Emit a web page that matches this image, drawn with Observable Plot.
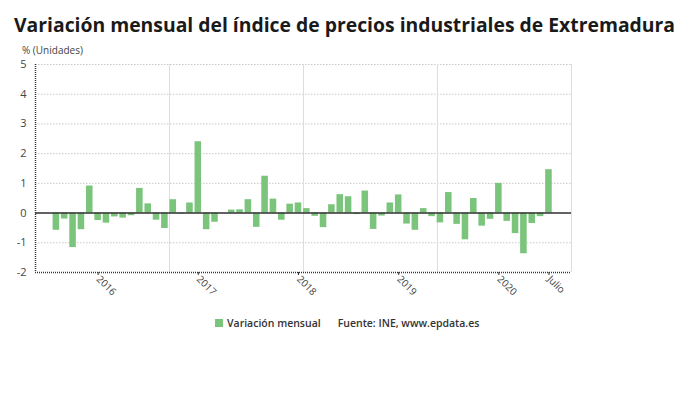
<!DOCTYPE html>
<html>
<head>
<meta charset="utf-8">
<script src="https://cdn.jsdelivr.net/npm/d3@7"></script>
<script src="https://cdn.jsdelivr.net/npm/@observablehq/plot@0.6"></script>
<style>
  html, body { margin: 0; padding: 0; background: #fff; }
  body { width: 690px; height: 406px; position: relative; overflow: hidden; font-family: "Open Sans", sans-serif; }
  #title { position: absolute; left: 14px; top: 10px; font-size: 19.35px; font-weight: 700; line-height: 30px; color: #1a1a1a; white-space: nowrap; }
  #sub { position: absolute; left: 22px; top: 43px; font-size: 10px; line-height: 14px; color: #444; }
  #chart { position: absolute; left: 0; top: 54px; }
  #legend { position: absolute; left: 215px; top: 316px; font-size: 10.5px; font-weight: 600; line-height: 14px; color: #333; white-space: nowrap; }
  #legend .sw { display: inline-block; width: 8px; height: 8px; background: #7bc47c; margin-right: 4px; vertical-align: 0px; }
  #legend .src { margin-left: 17px; }
</style>
</head>
<body>
<div id="title">Variación mensual del índice de precios industriales de Extremadura</div>
<div id="sub">% (Unidades)</div>
<div id="chart"></div>
<div id="legend"><span class="sw"></span>Variación mensual<span class="src">Fuente: INE, www.epdata.es</span></div>
<script>
// Monthly values, August 2015 – July 2020
const months = [
  "2015-08","2015-09","2015-10","2015-11","2015-12",
  "2016-01","2016-02","2016-03","2016-04","2016-05","2016-06","2016-07","2016-08","2016-09","2016-10","2016-11","2016-12",
  "2017-01","2017-02","2017-03","2017-04","2017-05","2017-06","2017-07","2017-08","2017-09","2017-10","2017-11","2017-12",
  "2018-01","2018-02","2018-03","2018-04","2018-05","2018-06","2018-07","2018-08","2018-09","2018-10","2018-11","2018-12",
  "2019-01","2019-02","2019-03","2019-04","2019-05","2019-06","2019-07","2019-08","2019-09","2019-10","2019-11","2019-12",
  "2020-01","2020-02","2020-03","2020-04","2020-05","2020-06","2020-07"
];
const values = [
  -0.58, -0.20, -1.16, -0.56, 0.91,
  -0.25, -0.34, -0.13, -0.17, -0.09, 0.83, 0.31, -0.24, -0.52, 0.45, -0.03, 0.34,
  2.40, -0.56, -0.31, 0.00, 0.10, 0.11, 0.45, -0.48, 1.24, 0.47, -0.24, 0.30,
  0.34, 0.15, -0.11, -0.49, 0.28, 0.62, 0.55, -0.05, 0.74, -0.55, -0.10, 0.34,
  0.61, -0.37, -0.58, 0.15, -0.12, -0.33, 0.69, -0.38, -0.90, 0.49, -0.44, -0.21,
  1.00, -0.28, -0.69, -1.37, -0.35, -0.12, 1.46
];
const tickLabels = {"2016-01": "2016", "2017-01": "2017", "2018-01": "2018", "2019-01": "2019", "2020-01": "2020", "2020-07": "Julio"};
const yTicks = [-2, -1, 0, 1, 2, 3, 4, 5];

const data = months.map((m, i) => ({i, month: m, value: values[i]}));
const xDomain = [-2.5, months.length + 1.7];
const xTickIdx = data.filter(d => tickLabels[d.month]).map(d => d.i);
const vGrid = d3.range(1, 4).map(k => xDomain[0] + k * (xDomain[1] - xDomain[0]) / 4);

const green = "#7bc47c";
const plot = Plot.plot({
  width: 690,
  height: 262,
  marginTop: 10,
  marginLeft: 35,
  marginRight: 119,
  marginBottom: 44,
  style: {fontFamily: "Open Sans, sans-serif", fontSize: "11px", color: "#444", background: "transparent"},
  x: {domain: xDomain, axis: null, label: null},
  y: {domain: [-2, 5], axis: null, label: null},
  marks: [
    Plot.ruleY(yTicks.filter(t => t > -2), {stroke: "#c8c8c8", strokeDasharray: "1.5,1.5", strokeWidth: 1}),
    Plot.ruleX(vGrid, {stroke: "#dedede", strokeWidth: 1}),
    Plot.ruleX([xDomain[1]], {stroke: "#dedede", strokeWidth: 1}),
    Plot.rectY(data, {x1: d => d.i - 0.5, x2: d => d.i + 0.5, y1: 0, y2: "value", fill: green, insetLeft: 0.9, insetRight: 0.9}),
    Plot.ruleY([0], {stroke: "#333", strokeWidth: 1.5}),
    Plot.ruleX([xDomain[0]], {stroke: "#333", strokeDasharray: "1,1", strokeWidth: 1.5}),
    Plot.ruleY([-2], {stroke: "#333", strokeDasharray: "1,1", strokeWidth: 1.5}),
    Plot.axisY(yTicks, {tickSize: 0, tickPadding: 9, fontSize: 11, fill: "#444", label: null, tickFormat: d => String(d)}),
    Plot.axisX(xTickIdx, {tickSize: 3, tickPadding: 2, tickRotate: 45, stroke: "#333", label: null,
      tickFormat: i => tickLabels[months[i]], fontSize: 10, fill: "#444"})
  ]
});
document.getElementById("chart").appendChild(plot);
</script>
</body>
</html>
